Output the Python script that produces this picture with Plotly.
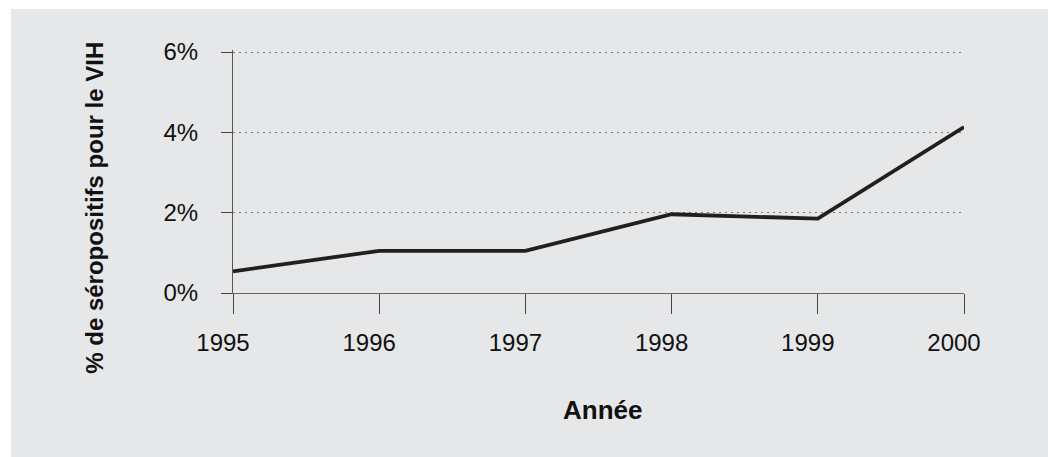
import plotly.graph_objects as go

# annees et taux de seropositivite (%)
annees = [1995, 1996, 1997, 1998, 1999, 2000]
taux_vih = [0.54, 1.05, 1.05, 1.96, 1.85, 4.13]
y_ticks = [0, 2, 4, 6]
y_labels = ["0%", "2%", "4%", "6%"]

bg = "#E6E7E9"
tick_font = dict(family="Liberation Sans, Arial", size=24, color="#111")
title_font = dict(family="Liberation Sans, Arial", color="#111")

fig = go.Figure()
fig.add_trace(go.Scatter(x=annees, y=taux_vih, mode="lines",
                         line=dict(color="#231F20", width=3.8)))

# bandes blanches en haut et a gauche, comme dans l'original
fig.add_shape(type="rect", xref="paper", yref="paper", layer="below",
              x0=-1, x1=-0.3037, y0=-1, y1=2, fillcolor="white", line_width=0)
fig.add_shape(type="rect", xref="paper", yref="paper", layer="below",
              x0=-1, x1=2, y0=1.1687, y1=2, fillcolor="white", line_width=0)

fig.update_xaxes(range=[1995, 2000], tickvals=annees, ticktext=[str(a) for a in annees],
                 showgrid=False, zeroline=False, showline=True, linecolor="#666", linewidth=1.2,
                 ticks="outside", ticklen=20, tickcolor="#444", tickwidth=1.2,
                 tickfont=tick_font, ticklabelshift=-10, ticklabelstandoff=8)
fig.update_yaxes(range=[0, 6.05], tickvals=y_ticks, ticktext=y_labels,
                 showgrid=True, gridcolor="#777", griddash="2px,4px", gridwidth=1.3,
                 zeroline=False, showline=True, linecolor="#555", linewidth=1.2,
                 ticks="outside", ticklen=11, tickcolor="#444", tickwidth=1.2,
                 tickfont=tick_font, ticklabelstandoff=18)

fig.add_annotation(text="<b>% de séropositifs pour le VIH</b>", xref="paper", yref="paper",
                   x=-0.189, y=0.35, xanchor="center", yanchor="middle",
                   textangle=-90, showarrow=False,
                   font=dict(size=24, **title_font))
fig.add_annotation(text="<b>Année</b>", xref="paper", yref="paper",
                   x=0.505, y=-0.482, xanchor="center", yanchor="middle", showarrow=False,
                   font=dict(size=26, **title_font))

fig.update_layout(width=1048, height=457, showlegend=False,
                  paper_bgcolor=bg, plot_bgcolor=bg,
                  margin=dict(l=233, r=84, t=50, b=164))

fig.write_html("out.html", config={"displayModeBar": False},
               post_script="document.body.style.margin='0';")
